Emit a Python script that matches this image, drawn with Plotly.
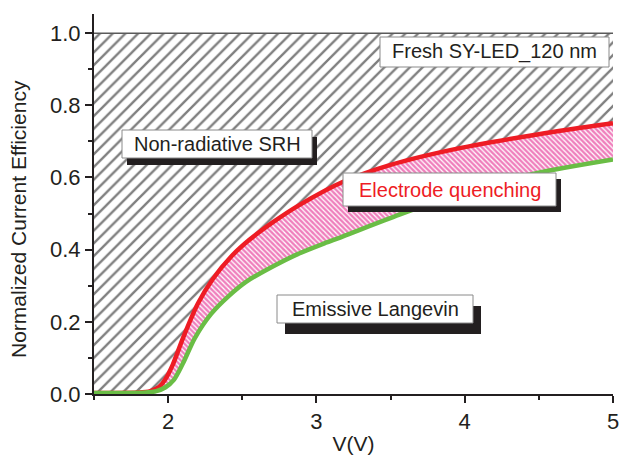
import plotly.graph_objects as go

# Normalized current efficiency vs. voltage
v_red = [1.5, 1.8, 1.88, 1.94, 1.98, 2.03, 2.1, 2.2, 2.3, 2.43, 2.55, 2.7, 2.887, 3.18, 3.5,
         3.95, 4.5, 5.0]
eff_red = [0.003, 0.004, 0.008, 0.02, 0.04, 0.08, 0.155, 0.25, 0.318, 0.383, 0.428, 0.474, 0.524,
           0.588, 0.635, 0.68, 0.72, 0.75]

v_green = [1.5, 1.85, 1.92, 1.98, 2.04, 2.1, 2.18, 2.29, 2.41, 2.53, 2.69, 2.87, 3.07, 3.18,
           3.56, 4.0, 4.46, 5.0]
eff_green = [0.003, 0.004, 0.008, 0.018, 0.04, 0.085, 0.155, 0.222, 0.272, 0.312, 0.35, 0.387, 0.42,
             0.437, 0.497, 0.56, 0.61, 0.65]

v_top = [1.5, 5.0]
eff_top = [1.0, 1.0]

x_ticks = [2, 3, 4, 5]
y_ticks = [0.0, 0.2, 0.4, 0.6, 0.8, 1.0]
y_ticklabels = ["0.0", "0.2", "0.4", "0.6", "0.8", "1.0"]

W, H = 619, 460
L, R, T, B = 94, 6, 14, 66
PW, PH = W - L - R, H - T - B

FONT = "Liberation Sans, Arial, sans-serif"
INK = "#231f20"
RED = "#ee1c24"
GREEN = "#6abd45"
PINK = "#e0007a"


def px(x):
    return (x - L) / PW


def py(y):
    return (H - B - y) / PH


fig = go.Figure()

fig.add_trace(go.Scatter(x=v_top, y=eff_top, mode="lines",
                         line=dict(color="#5a5a5a", width=1.5), hoverinfo="skip"))
fig.add_trace(go.Scatter(x=v_red, y=eff_red, mode="lines",
                         line=dict(color=RED, width=4.5, shape="spline", smoothing=0.8),
                         fill="tonexty", fillcolor="rgba(0,0,0,0)",
                         fillpattern=dict(shape="/", size=9, solidity=0.26,
                                          fgcolor="#000000", bgcolor="white")))
fig.add_trace(go.Scatter(x=v_green, y=eff_green, mode="lines",
                         line=dict(color=GREEN, width=4.5, shape="spline", smoothing=0.8),
                         fill="tonexty", fillcolor="rgba(0,0,0,0)",
                         fillpattern=dict(shape="\\", size=3.6, solidity=0.66,
                                          fgcolor=PINK, bgcolor="white")))

# Labelled boxes: (x0, y0, x1, y1) in pixels, shadow offset, text, colour
boxes = [
    ((380, 37, 609, 67), None, "Fresh SY-LED_120 nm", INK),
    ((122, 130, 312, 158), (5, 7), "Non-radiative SRH", INK),
    ((343, 173, 556, 206), (5, 6), "Electrode quenching", RED),
    ((277, 295, 473, 323), (8, 11), "Emissive Langevin", INK),
]
shapes = []
annotations = []
for (x0, y0, x1, y1), off, text, color in boxes:
    if off:
        shapes.append(dict(type="rect", xref="paper", yref="paper", layer="above",
                           x0=px(x0 + off[0]), x1=px(x1 + off[0]),
                           y0=py(y1 + off[1]), y1=py(y0 + off[1]),
                           fillcolor=INK, line=dict(width=0)))
    shapes.append(dict(type="rect", xref="paper", yref="paper", layer="above",
                       x0=px(x0), x1=px(x1), y0=py(y1), y1=py(y0),
                       fillcolor="white", line=dict(color="#8a8a8a", width=1)))
    annotations.append(dict(xref="paper", yref="paper", x=px((x0 + x1) / 2),
                            y=py((y0 + y1) / 2), text=text, showarrow=False,
                            xanchor="center", yanchor="middle",
                            font=dict(family=FONT, size=20, color=color)))

# Y-axis title
annotations.append(dict(xref="paper", yref="paper", x=px(18), y=py(219),
                        text="Normalized Current Efficiency", textangle=-90,
                        showarrow=False, xanchor="center", yanchor="middle",
                        font=dict(family=FONT, size=21, color=INK)))

axis_common = dict(showline=True, linecolor=INK, linewidth=2, showgrid=False,
                   zeroline=False, tickcolor=INK, tickwidth=1.5, automargin=False)

fig.update_layout(
    width=W, height=H, margin=dict(l=L, r=R, t=T, b=B),
    paper_bgcolor="white", plot_bgcolor="white", showlegend=False,
    font=dict(family=FONT, color=INK),
    shapes=shapes, annotations=annotations,
    xaxis=dict(range=[1.5, 5], tickvals=x_ticks, ticks="outside", ticklen=7,
               ticklabeloverflow="allow",
               minor=dict(dtick=0.5, tick0=1.5, ticks="outside", ticklen=4,
                          tickcolor=INK, tickwidth=1.5),
               tickfont=dict(size=22), title=dict(text="V(V)", font=dict(size=21), standoff=3),
               **axis_common),
    yaxis=dict(range=[0, 1.053], tickvals=y_ticks, ticktext=y_ticklabels,
               ticks="outside", ticklen=7, ticklabeloverflow="allow",
               minor=dict(dtick=0.1, tick0=0, ticks="outside", ticklen=4,
                          tickcolor=INK, tickwidth=1.5),
               tickfont=dict(size=22),
               **axis_common),
    xaxis2=dict(range=[1.5, 5], overlaying="x", side="top", anchor="y",
                tickvals=x_ticks, ticks="inside", ticklen=7, showticklabels=False,
                minor=dict(dtick=0.5, tick0=1.5, ticks="inside", ticklen=4,
                           tickcolor=INK, tickwidth=1.5),
                **axis_common),
    yaxis2=dict(range=[0, 1.053], overlaying="y", side="right", anchor="x",
                tickvals=y_ticks, ticks="inside", ticklen=7, showticklabels=False,
                minor=dict(dtick=0.1, tick0=0, ticks="inside", ticklen=4,
                           tickcolor=INK, tickwidth=1.5),
                **axis_common),
)

fig.write_html("out.html")
